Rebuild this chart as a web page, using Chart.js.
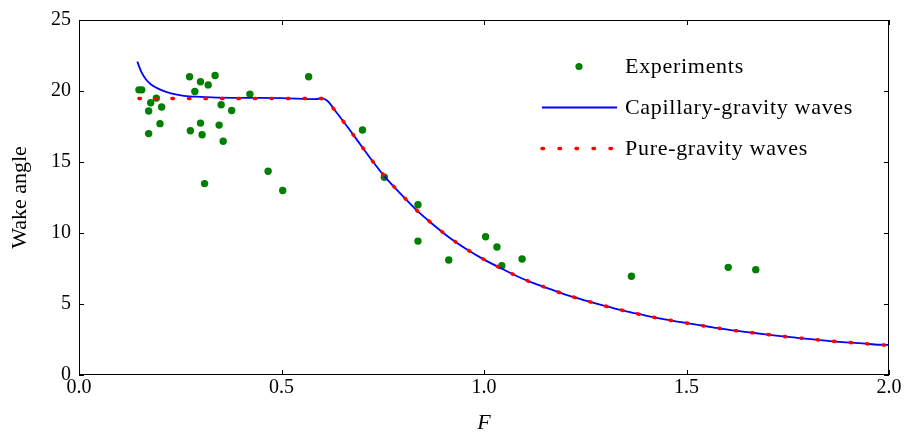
<!DOCTYPE html>
<html>
<head>
<meta charset="utf-8">
<script src="https://cdn.jsdelivr.net/npm/chart.js@4.4.1/dist/chart.umd.min.js"></script>
<style>
  html, body { margin: 0; padding: 0; background: #fff; }
  #wake { display: block; }
</style>
</head>
<body>
<canvas id="wake" width="906" height="435"></canvas>
<script>
// DATA
const expF = [0.148, 0.155, 0.191, 0.177, 0.172, 0.204, 0.200, 0.172, 0.273, 0.300,
  0.319, 0.336, 0.286, 0.422, 0.351, 0.377, 0.300, 0.275, 0.304, 0.346,
  0.356, 0.310, 0.467, 0.503, 0.567, 0.700, 0.754, 0.837, 0.837, 0.913,
  1.004, 1.032, 1.044, 1.094, 1.364, 1.603, 1.671];
const expAngle = [20.08, 20.08, 19.5, 19.17, 18.59, 18.87, 17.7, 17.0, 21.0, 20.65,
  20.43, 21.09, 19.97, 19.78, 19.03, 18.63, 17.74, 17.2, 16.92, 17.6,
  16.46, 13.48, 14.35, 12.99, 21.0, 17.25, 13.93, 11.99, 9.43, 8.1,
  9.74, 9.01, 7.7, 8.17, 6.95, 7.58, 7.42];

const gravF = [0.148, 0.600, 0.613, 0.634, 0.665, 0.695, 0.725, 0.756, 0.795, 0.834,
  0.875, 0.915, 0.956, 0.997, 1.038, 1.079, 1.119, 1.160, 1.201, 1.242,
  1.282, 1.323, 1.365, 1.405, 1.446, 1.487, 1.528, 1.568, 1.609, 1.650,
  1.690, 1.732, 1.773, 1.813, 1.854, 1.895, 1.935, 1.976, 2.000];
const gravAngle = [19.47, 19.47, 19.30, 18.56, 17.39, 16.22, 15.05, 13.93, 12.73, 11.59,
  10.58, 9.66, 8.87, 8.18, 7.57, 6.99, 6.50, 6.08, 5.66, 5.31,
  4.99, 4.68, 4.40, 4.14, 3.91, 3.72, 3.53, 3.34, 3.16, 3.02,
  2.88, 2.74, 2.62, 2.51, 2.39, 2.30, 2.22, 2.13, 2.09];

const capF = [0.144, 0.153, 0.165, 0.177, 0.198, 0.227, 0.259, 0.300, 0.382, 0.500,
  0.583, 0.600, 0.613, 0.634, 0.665, 0.695, 0.725, 0.756, 0.795, 0.834,
  0.875, 0.915, 0.956, 0.997, 1.038, 1.079, 1.119, 1.160, 1.201, 1.242,
  1.282, 1.323, 1.365, 1.405, 1.446, 1.487, 1.528, 1.568, 1.609, 1.650,
  1.690, 1.732, 1.773, 1.813, 1.854, 1.895, 1.935, 1.976, 2.000];
const capAngle = [22.07, 21.40, 20.83, 20.48, 20.13, 19.83, 19.66, 19.59, 19.52, 19.50,
  19.43, 19.48, 19.31, 18.56, 17.39, 16.22, 15.05, 13.93, 12.73, 11.59,
  10.58, 9.66, 8.87, 8.18, 7.57, 6.99, 6.50, 6.08, 5.66, 5.31,
  4.99, 4.68, 4.40, 4.14, 3.91, 3.72, 3.53, 3.34, 3.16, 3.02,
  2.88, 2.74, 2.62, 2.51, 2.39, 2.30, 2.22, 2.13, 2.12];

const xTicks = [0, 0.5, 1.0, 1.5, 2.0];
const yTicks = [0, 5, 10, 15, 20, 25];
const legendLabels = ['Experiments', 'Capillary-gravity waves', 'Pure-gravity waves'];

// THEME
const THEME = {
  font: '"Liberation Serif", "Times New Roman", serif',
  green: '#008000',
  blue: '#0000ff',
  red: '#ff0000',
  frame: '#000000'
};

const toXY = (xs, ys) => xs.map((x, i) => ({ x, y: ys[i] }));

// frame, inward ticks and the legend, matplotlib style
const framePlugin = {
  id: 'frame',
  afterDraw(chart) {
    const { ctx, chartArea: a, scales } = chart;
    ctx.save();
    ctx.strokeStyle = THEME.frame;
    ctx.lineWidth = 1;
    ctx.strokeRect(Math.round(a.left) + 0.5, Math.round(a.top) + 0.5,
      Math.round(a.right - a.left) - 1, Math.round(a.bottom - a.top) - 1);

    const tl = 5;
    ctx.beginPath();
    xTicks.forEach(v => {
      const px = Math.round(scales.x.getPixelForValue(v)) + 0.5;
      ctx.moveTo(px, a.bottom); ctx.lineTo(px, a.bottom - tl);
      ctx.moveTo(px, a.top); ctx.lineTo(px, a.top + tl);
    });
    yTicks.forEach(v => {
      const py = Math.round(scales.y.getPixelForValue(v)) + 0.5;
      ctx.moveTo(a.left, py); ctx.lineTo(a.left + tl, py);
      ctx.moveTo(a.right, py); ctx.lineTo(a.right - tl, py);
    });
    ctx.stroke();

    // LEGEND
    const rowY = [66.5, 107.5, 148.5];
    const x0 = 542, x1 = 617, tx = 625;
    ctx.fillStyle = THEME.green;
    ctx.beginPath();
    ctx.arc((x0 + x1) / 2 - 0.5, rowY[0], 3.6, 0, Math.PI * 2);
    ctx.fill();

    ctx.strokeStyle = THEME.blue;
    ctx.lineWidth = 1.8;
    ctx.beginPath();
    ctx.moveTo(x0, rowY[1]); ctx.lineTo(x1, rowY[1]);
    ctx.stroke();

    ctx.strokeStyle = THEME.red;
    ctx.lineWidth = 3.5;
    ctx.lineCap = 'round';
    ctx.setLineDash([1.5, 15.5]);
    ctx.beginPath();
    ctx.moveTo(x0, rowY[2]); ctx.lineTo(x1 - 4, rowY[2]);
    ctx.stroke();
    ctx.setLineDash([]);

    ctx.fillStyle = '#000';
    ctx.font = '22px ' + THEME.font;
    ctx.letterSpacing = '0.7px';
    ctx.textBaseline = 'middle';
    ctx.textAlign = 'left';
    legendLabels.forEach((t, i) => ctx.fillText(t, tx, rowY[i] + 1));
    ctx.restore();
  }
};

new Chart(document.getElementById('wake'), {
  type: 'scatter',
  data: {
    datasets: [
      {
        label: legendLabels[2],
        data: toXY(gravF, gravAngle),
        showLine: true,
        borderColor: THEME.red,
        borderWidth: 3.5,
        borderDash: [1.5, 15],
        borderCapStyle: 'round',
        pointRadius: 0,
        tension: 0,
        order: 1
      },
      {
        label: legendLabels[1],
        data: toXY(capF, capAngle),
        showLine: true,
        borderColor: THEME.blue,
        borderWidth: 1.8,
        pointRadius: 0,
        cubicInterpolationMode: 'monotone',
        order: 2
      },
      {
        label: legendLabels[0],
        data: toXY(expF, expAngle),
        backgroundColor: THEME.green,
        borderWidth: 0,
        pointRadius: 3.7,
        order: 3
      }
    ]
  },
  options: {
    responsive: false,
    animation: false,
    devicePixelRatio: 1,
    layout: { padding: { top: 19, right: 17, left: 0, bottom: 0 } },
    plugins: {
      legend: { display: false },
      tooltip: { enabled: false }
    },
    scales: {
      x: {
        type: 'linear',
        min: 0,
        max: 2,
        afterFit: s => { s.height = 60; },
        afterBuildTicks: s => { s.ticks = xTicks.map(v => ({ value: v })); },
        grid: { display: false, drawTicks: false },
        border: { display: false },
        ticks: {
          color: '#000',
          padding: 1,
          maxRotation: 0,
          font: { family: THEME.font, size: 20 },
          callback: v => v.toFixed(1)
        },
        title: {
          display: true,
          text: 'F',
          color: '#000',
          padding: { top: 0, bottom: 1 },
          font: { family: THEME.font, size: 22, style: 'italic', lineHeight: 1 }
        }
      },
      y: {
        min: 0,
        max: 25,
        afterFit: s => { s.width = 79; },
        afterBuildTicks: s => { s.ticks = yTicks.map(v => ({ value: v })); },
        grid: { display: false, drawTicks: false },
        border: { display: false },
        ticks: {
          color: '#000',
          padding: 8,
          font: { family: THEME.font, size: 20 },
          callback: v => String(v)
        },
        title: {
          display: true,
          text: 'Wake angle',
          color: '#000',
          padding: { top: 9, bottom: 0 },
          font: { family: THEME.font, size: 22, lineHeight: 1 }
        }
      }
    }
  },
  plugins: [framePlugin]
});
</script>
</body>
</html>
